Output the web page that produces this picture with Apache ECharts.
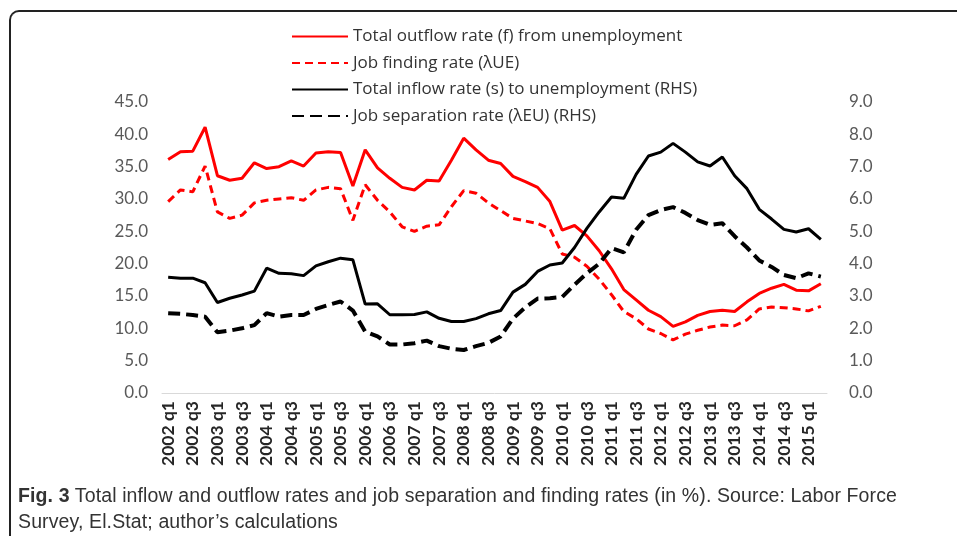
<!DOCTYPE html>
<html>
<head>
<meta charset="utf-8">
<script src="https://cdn.jsdelivr.net/npm/echarts@6/dist/echarts.min.js"></script>
<style>
  html, body { margin: 0; padding: 0; background: #fff; overflow: hidden; }
  #wrap { position: relative; width: 957px; height: 536px; }
  #frame {
    position: absolute; left: 9px; top: 10px; width: 1000px; height: 600px;
    border-top: 2px solid #222; border-left: 2px solid #222;
    border-top-left-radius: 10px; box-sizing: border-box;
  }
  #main { position: absolute; left: 0; top: 0; width: 957px; height: 536px; }
  #caption {
    position: absolute; left: 18px; top: 482px; width: 935px;
    font-family: "Liberation Sans Narrow", "Arial Narrow", sans-serif;
    font-size: 19.5px; letter-spacing: 0.12px; line-height: 26px; color: #333;
    white-space: nowrap;
  }
</style>
</head>
<body>
<div id="wrap">
  <div id="frame"></div>
  <div id="main"></div>
  <div id="caption"><b>Fig. 3</b> Total inflow and outflow rates and job separation and finding rates (in %). Source: Labor Force<br>Survey, El.Stat; author’s calculations</div>
</div>
<script>
// quarters 2002 q1 .. 2015 q2
const quarters = [
  '2002 q1','2002 q2','2002 q3','2002 q4','2003 q1','2003 q2','2003 q3','2003 q4',
  '2004 q1','2004 q2','2004 q3','2004 q4','2005 q1','2005 q2','2005 q3','2005 q4',
  '2006 q1','2006 q2','2006 q3','2006 q4','2007 q1','2007 q2','2007 q3','2007 q4',
  '2008 q1','2008 q2','2008 q3','2008 q4','2009 q1','2009 q2','2009 q3','2009 q4',
  '2010 q1','2010 q2','2010 q3','2010 q4','2011 q1','2011 q2','2011 q3','2011 q4',
  '2012 q1','2012 q2','2012 q3','2012 q4','2013 q1','2013 q2','2013 q3','2013 q4',
  '2014 q1','2014 q2','2014 q3','2014 q4','2015 q1','2015 q2'
];

// left axis (%)
const outflow = [
  36.1, 37.3, 37.4, 41.1, 33.6, 32.9, 33.2, 35.6, 34.7, 35.0, 35.9, 35.1, 37.1,
  37.3, 37.2, 32.0, 37.6, 34.8, 33.2, 31.8, 31.4, 32.9, 32.8, 36.0, 39.4, 37.6,
  36.0, 35.5, 33.5, 32.7, 31.8, 29.6, 25.2, 25.9, 24.3, 22.0, 19.2, 16.0, 14.4,
  12.8, 11.8, 10.3, 11.0, 12.0, 12.6, 12.8, 12.6, 14.1, 15.4, 16.2, 16.8, 15.9,
  15.8, 16.9
];
const jobFinding = [
  29.6, 31.4, 31.1, 35.1, 28.0, 27.0, 27.5, 29.4, 29.8, 30.0, 30.2, 29.8, 31.4,
  31.8, 31.6, 26.7, 32.2, 29.8, 28.0, 25.7, 25.0, 25.8, 26.0, 28.8, 31.3, 30.9,
  29.4, 28.2, 27.0, 26.6, 26.2, 25.4, 21.5, 21.0, 19.6, 17.6, 15.2, 12.6, 11.5,
  9.9, 9.2, 8.2, 9.1, 9.7, 10.2, 10.5, 10.4, 11.3, 13.0, 13.3, 13.2, 13.0,
  12.7, 13.4
];

// right axis (%)
const inflow = [
  3.58, 3.55, 3.55, 3.41, 2.80, 2.93, 3.03, 3.15, 3.86, 3.70, 3.69, 3.63, 3.93,
  4.06, 4.17, 4.12, 2.75, 2.76, 2.42, 2.42, 2.43, 2.51, 2.31, 2.21, 2.21, 2.30,
  2.45, 2.55, 3.12, 3.36, 3.76, 3.96, 4.02, 4.50, 5.09, 5.60, 6.06, 6.02, 6.76,
  7.33, 7.45, 7.72, 7.45, 7.15, 7.02, 7.30, 6.72, 6.32, 5.68, 5.38, 5.06, 4.98,
  5.08, 4.75
];
const jobSeparation = [
  2.47, 2.45, 2.41, 2.36, 1.88, 1.93, 2.00, 2.10, 2.47, 2.36, 2.41, 2.41, 2.60,
  2.72, 2.83, 2.55, 1.90, 1.75, 1.50, 1.50, 1.54, 1.62, 1.45, 1.37, 1.33, 1.45,
  1.55, 1.75, 2.30, 2.65, 2.92, 2.93, 2.97, 3.35, 3.70, 4.00, 4.48, 4.35, 5.05,
  5.50, 5.66, 5.75, 5.57, 5.35, 5.20, 5.25, 4.85, 4.50, 4.10, 3.90, 3.65, 3.55,
  3.70, 3.60
];

const names = [
  'Total outflow rate (f) from unemployment',
  'Job finding rate (λUE)',
  'Total inflow rate (s) to unemployment (RHS)',
  'Job separation rate (λEU) (RHS)'
];

const font = 'Lato, "Open Sans", sans-serif';
const chart = echarts.init(document.getElementById('main'));

function line(name, data, color, dash, width, axis) {
  return {
    name: name,
    type: 'line',
    yAxisIndex: axis,
    data: data,
    symbol: 'none',
    showSymbol: false,
    lineStyle: { color: color, width: width, type: dash || 'solid' },
    itemStyle: { color: color }
  };
}

const option = {
  animation: false,
  textStyle: { fontFamily: font },
  legend: {
    orient: 'vertical',
    left: 286,
    top: 23,
    itemWidth: 56,
    itemHeight: 12,
    itemGap: 9.5,
    itemStyle: { opacity: 0 },
    textStyle: { fontFamily: '"Open Sans", sans-serif', fontSize: 17, color: '#333' },
    data: names
  },
  grid: { left: 162, right: 130, top: 102, bottom: 143 },
  xAxis: {
    type: 'category',
    data: quarters,
    boundaryGap: true,
    axisTick: { show: false },
    axisLine: { lineStyle: { color: '#d9d9d9', width: 1 } },
    axisLabel: {
      interval: 1,
      rotate: 90,
      fontFamily: font,
      fontSize: 17.5,
      fontWeight: 'bold',
      color: '#262626',
      margin: 8
    }
  },
  yAxis: [
    {
      type: 'value', min: 0, max: 45, interval: 5,
      splitLine: { show: false },
      axisLine: { show: false }, axisTick: { show: false },
      axisLabel: {
        formatter: v => v.toFixed(1),
        fontFamily: font, fontSize: 17, color: '#595959', margin: 14
      }
    },
    {
      type: 'value', min: 0, max: 9, interval: 1,
      splitLine: { show: false },
      axisLine: { show: false }, axisTick: { show: false },
      axisLabel: {
        formatter: v => v.toFixed(1),
        fontFamily: font, fontSize: 17, color: '#595959', margin: 22
      }
    }
  ],
  series: [
    line(names[0], outflow, '#ff0000', null, 3, 0),
    line(names[1], jobFinding, '#ff0000', [8, 5], 3, 0),
    line(names[2], inflow, '#000000', null, 3, 1),
    line(names[3], jobSeparation, '#000000', [12, 6], 4, 1)
  ]
};

chart.setOption(option);
</script>
</body>
</html>
